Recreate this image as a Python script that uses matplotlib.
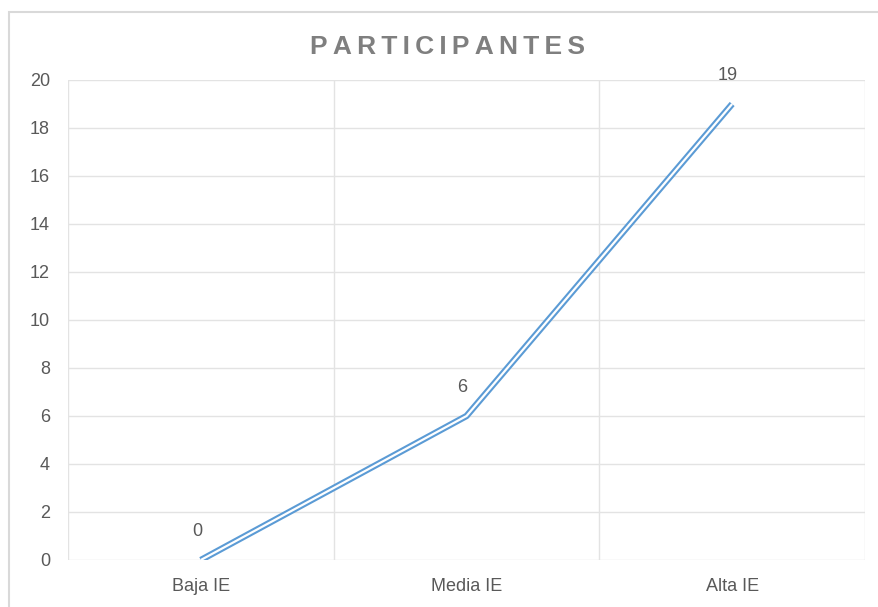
import matplotlib
matplotlib.use("Agg")
import matplotlib.pyplot as plt
from matplotlib.patches import Rectangle

# data
categorias = ["Baja IE", "Media IE", "Alta IE"]
participantes = [0, 6, 19]
y_ticks = list(range(0, 21, 2))
titulo = "PARTICIPANTES"

AZUL = "#5b9bd5"
GRIS_TEXTO = "#595959"
GRIS_GRID = "#e3e3e3"

plt.rcParams["font.family"] = ["Liberation Sans", "DejaVu Sans"]

fig = plt.figure(figsize=(8.79, 6.07), dpi=100)
ax = fig.add_axes([68 / 879, 1 - 560 / 607, (865 - 68) / 879, (560 - 80) / 607])

# outer frame of the chart
fig.patches.append(Rectangle((9 / 879, -0.01), 1.0, 1 - 12 / 607 + 0.01,
                             transform=fig.transFigure, fill=False,
                             edgecolor="#d9d9d9", linewidth=1.5))

x = list(range(len(categorias)))

# double line: blue stroke with a white core
ax.plot(x, participantes, color=AZUL, linewidth=4.6, solid_capstyle="butt", zorder=3)
ax.plot(x, participantes, color="white", linewidth=1.6, solid_capstyle="butt", zorder=4)

for xi, v in zip(x, participantes):
    ax.annotate(str(v), (xi, v), xytext=(-4, 20), textcoords="offset pixels",
                ha="center", va="bottom", fontsize=13, color=GRIS_TEXTO)

ax.set_xlim(-0.5, len(categorias) - 0.5)
ax.set_ylim(0, 20)
ax.set_yticks(y_ticks)
ax.set_xticks(x)
ax.set_xticklabels(categorias)

# vertical gridlines at category boundaries
ax.set_xticks([i + 0.5 for i in range(-1, len(categorias))], minor=True)
ax.grid(True, which="minor", axis="x", color=GRIS_GRID, linewidth=1)
ax.grid(True, which="major", axis="y", color=GRIS_GRID, linewidth=1)
ax.set_axisbelow(True)

for s in ax.spines.values():
    s.set_visible(False)
ax.tick_params(axis="both", which="both", length=0, colors=GRIS_TEXTO, labelsize=13)
ax.tick_params(axis="y", pad=13)
ax.tick_params(axis="x", pad=13)

fig.text((310 + 585) / 2 / 879, 1 - 47 / 607, "\u2009".join(titulo),
         ha="center", va="center", fontsize=19, fontweight="bold", color="#7f7f7f")

fig.savefig("out.png", dpi=100)
